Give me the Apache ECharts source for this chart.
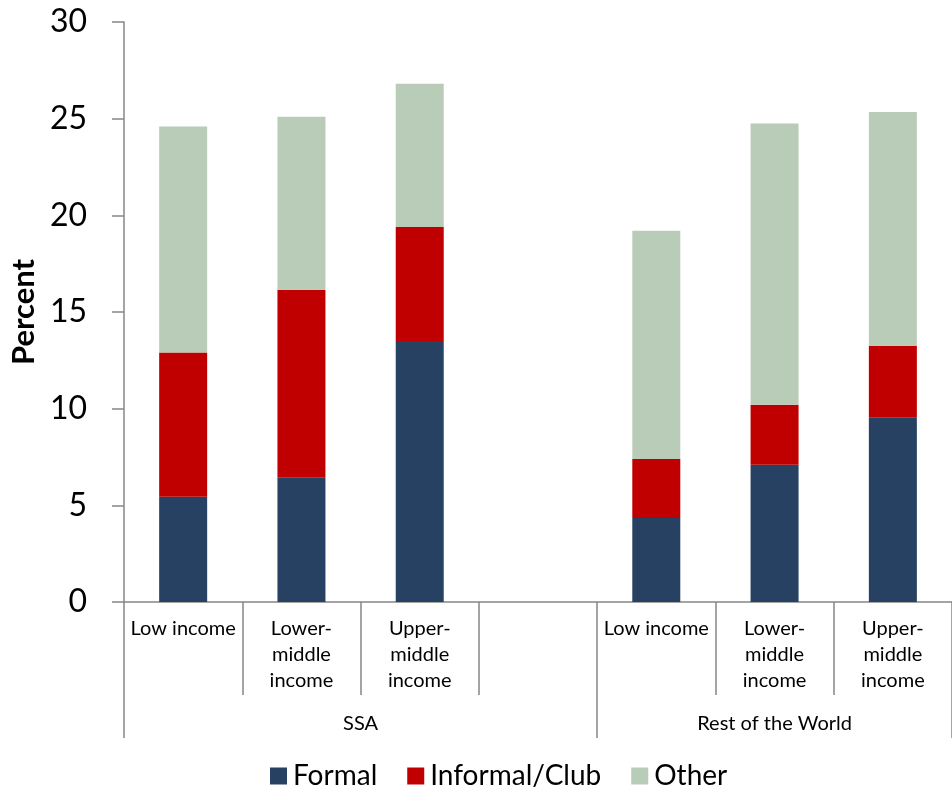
<!DOCTYPE html>
<html><head><meta charset="utf-8">
<script src="https://cdn.jsdelivr.net/npm/echarts@6/dist/echarts.min.js"></script>
<style>html,body{margin:0;padding:0;background:#fff}#c{width:952px;height:789px}</style>
</head><body><div id="c"></div>
<script>
const categories = ["Low income","Lower-\nmiddle\nincome","Upper-\nmiddle\nincome","","Low income","Lower-\nmiddle\nincome","Upper-\nmiddle\nincome"];
const groupNames = ["SSA","Rest of the World"];
const groupBoundaries = [0,4,7];
const groupCenters = [2,5.5];
const formal = [5.45, 6.45, 13.5, null, 4.35, 7.1, 9.55];
const informal = [7.45, 9.7, 5.9, null, 3.05, 3.1, 3.7];
const other = [11.7, 8.95, 7.4, null, 11.8, 14.55, 12.1];
const yTicks = [0,5,10,15,20,25,30];

const FONT = 'Lato';
const AX = '#868686';
const chart = echarts.init(document.getElementById('c'));
chart.setOption({
  animation:false,
  textStyle:{fontFamily:FONT},
  grid:{left:121,right:-2,top:22,bottom:187,containLabel:false},
  legend:{top:760,left:270,padding:0,itemWidth:17,itemHeight:17,itemGap:30,icon:'rect',
    textStyle:{fontSize:28,lineHeight:32,fontFamily:FONT,color:'#000',padding:[0,0,0,1]}},
  xAxis:[{
    type:'category',data:categories,
    axisLine:{lineStyle:{color:AX,width:1.5}},
    axisTick:{show:true,interval:0,length:93,lineStyle:{color:AX,width:1.5}},
    axisLabel:{interval:0,fontSize:20,lineHeight:26,color:'#000',margin:14,fontFamily:FONT}
  },{
    type:'value',min:0,max:7,position:'bottom',
    axisLine:{show:false},splitLine:{show:false},
    axisTick:{show:true,customValues:groupBoundaries,length:136,lineStyle:{color:AX,width:1.5}},
    axisLabel:{customValues:groupCenters,fontSize:20,color:'#000',margin:112,fontFamily:FONT,
      formatter:v=>groupNames[groupCenters.indexOf(v)]}
  }],
  yAxis:{
    type:'value',min:0,max:30,interval:5,
    name:'Percent',nameLocation:'middle',nameGap:76,
    nameTextStyle:{fontSize:31,fontWeight:'bold',color:'#000',fontFamily:FONT},
    axisLine:{show:true,lineStyle:{color:AX,width:1.5}},
    axisTick:{show:true,length:12,lineStyle:{color:AX,width:1.5}},
    splitLine:{show:false},
    axisLabel:{fontSize:32,color:'#000',margin:37,fontFamily:FONT,
      formatter:v=>yTicks.includes(v)?String(v):''}
  },
  series:[
    {name:'Formal',type:'bar',stack:'t',data:formal,barWidth:48,itemStyle:{color:'#264162'}},
    {name:'Informal/Club',type:'bar',stack:'t',data:informal,barWidth:48,itemStyle:{color:'#C00000'}},
    {name:'Other',type:'bar',stack:'t',data:other,barWidth:48,itemStyle:{color:'#B9CCB8'}}
  ]
});
</script></body></html>
